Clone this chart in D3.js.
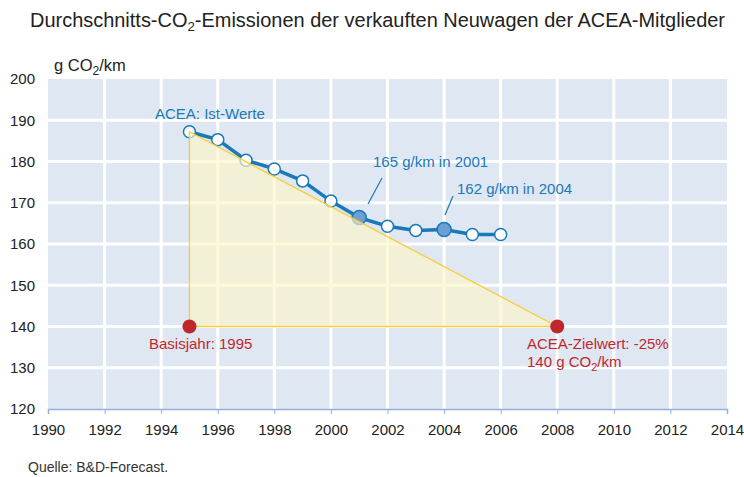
<!DOCTYPE html>
<html><head><meta charset="utf-8">
<script src="https://cdn.jsdelivr.net/npm/d3@7"></script>
<style>body{margin:0;background:#fff}svg{display:block;font-family:"Liberation Sans",Arial,sans-serif}</style>
</head><body><svg id="c" width="744" height="477"></svg>
<script>
const years = [1995,1996,1997,1998,1999,2000,2001,2002,2003,2004,2005,2006];
const values = [187.2,185.3,180.3,178.2,175.3,170.4,166.4,164.3,163.3,163.5,162.3,162.3];
const highlightYears = [2001,2004];
const baseYear = 1995, targetYear = 2008, targetValue = 140;
const xTicks = d3.range(1990,2015,2);
const yTicks = d3.range(120,201,10);

const svg = d3.select("#c");
const x = d3.scaleLinear().domain([1990,2014]).range([48,727]);
const y = d3.scaleLinear().domain([120,200]).range([409,79]);
const blue = "#1a79b9", red = "#c0272d";

svg.append("text").attr("x",30).attr("y",27).attr("font-size",19.5).attr("fill","#222")
  .attr("textLength",695).attr("lengthAdjust","spacingAndGlyphs")
  .html('Durchschnitts-CO<tspan font-size="13" dy="4">2</tspan><tspan dy="-4">-Emissionen der verkauften Neuwagen der ACEA-Mitglieder</tspan>');

// background
svg.append("rect").attr("x",x(1990)).attr("y",y(200)).attr("width",x(2014)-x(1990)).attr("height",y(120)-y(200)).attr("fill","#dfe7f3");
// grid
svg.append("g").selectAll("line").data(xTicks.slice(1,-1)).join("line")
  .attr("x1",d=>x(d)).attr("x2",d=>x(d)).attr("y1",y(200)).attr("y2",y(120)).attr("stroke","#fff").attr("stroke-width",3);
svg.append("g").selectAll("line").data(yTicks.slice(1,-1)).join("line")
  .attr("x1",x(1990)).attr("x2",x(2014)).attr("y1",d=>y(d)).attr("y2",d=>y(d)).attr("stroke","#fff").attr("stroke-width",3);

// axes
const xa = svg.append("g").attr("transform",`translate(0,${y(120)})`)
  .call(d3.axisBottom(x).tickValues(xTicks).tickFormat(d3.format("d")).tickSize(5).tickPadding(10));
xa.select(".domain").attr("stroke","#8fb3dc").attr("stroke-width",1.5);
xa.selectAll(".tick line").attr("stroke","#8fb3dc");
xa.selectAll("text").attr("font-size",15).attr("fill","#222").attr("font-family","Liberation Sans, Arial, sans-serif");
const ya = svg.append("g").attr("transform",`translate(${x(1990)-13},0)`)
  .call(d3.axisLeft(y).tickValues(yTicks).tickSize(0).tickPadding(0));
ya.select(".domain").remove();
ya.selectAll("text").attr("font-size",15).attr("fill","#222").attr("font-family","Liberation Sans, Arial, sans-serif");

svg.append("text").attr("x",54).attr("y",71).attr("font-size",16.5).attr("fill","#222")
  .html('g CO<tspan font-size="12" dy="4">2</tspan><tspan dy="-4">/km</tspan>');

// line
const data = years.map((yr,i)=>({yr,v:values[i]}));
svg.append("path").datum(data).attr("fill","none").attr("stroke",blue).attr("stroke-width",3.5)
  .attr("d",d3.line().x(d=>x(d.yr)).y(d=>y(d.v)));
svg.append("g").selectAll("circle").data(data).join("circle")
  .attr("cx",d=>x(d.yr)).attr("cy",d=>y(d.v)).attr("r",d=>highlightYears.includes(d.yr)?7:6)
  .attr("fill",d=>highlightYears.includes(d.yr)?"#6d9fd3":"#fff").attr("stroke",blue).attr("stroke-width",1.5);

// triangle
const tri = [[baseYear,values[0]],[baseYear,targetValue],[targetYear,targetValue]];
svg.append("path").attr("d",d3.line().x(d=>x(d[0])).y(d=>y(d[1])).curve(d3.curveLinearClosed)(tri))
  .attr("fill","rgba(252,246,200,0.65)").attr("stroke","#f7cd3a").attr("stroke-width",1.3);

// red points
svg.append("g").selectAll("circle").data([baseYear,targetYear]).join("circle")
  .attr("cx",d=>x(d)).attr("cy",y(targetValue)).attr("r",7).attr("fill",red);

// annotations
svg.append("text").attr("x",155).attr("y",119).attr("font-size",15).attr("fill",blue).text("ACEA: Ist-Werte");
svg.append("text").attr("x",373).attr("y",167).attr("font-size",15).attr("fill",blue).text("165 g/km in 2001");
svg.append("line").attr("x1",382).attr("y1",178).attr("x2",368).attr("y2",204).attr("stroke",blue).attr("stroke-width",1.2);
svg.append("text").attr("x",457).attr("y",194).attr("font-size",15).attr("fill",blue).text("162 g/km in 2004");
svg.append("line").attr("x1",453).attr("y1",196).attr("x2",445).attr("y2",215).attr("stroke",blue).attr("stroke-width",1.2);

svg.append("text").attr("x",149).attr("y",349).attr("font-size",15).attr("fill",red).text("Basisjahr: 1995");
svg.append("text").attr("x",527).attr("y",349).attr("font-size",15).attr("fill",red).text("ACEA-Zielwert: -25%");
svg.append("text").attr("x",527).attr("y",367).attr("font-size",15).attr("fill",red)
  .html('140 g CO<tspan font-size="11" dy="4">2</tspan><tspan dy="-4">/km</tspan>');

svg.append("text").attr("x",28).attr("y",472).attr("font-size",14).attr("fill","#333").text("Quelle: B&D-Forecast.");
</script></body></html>
